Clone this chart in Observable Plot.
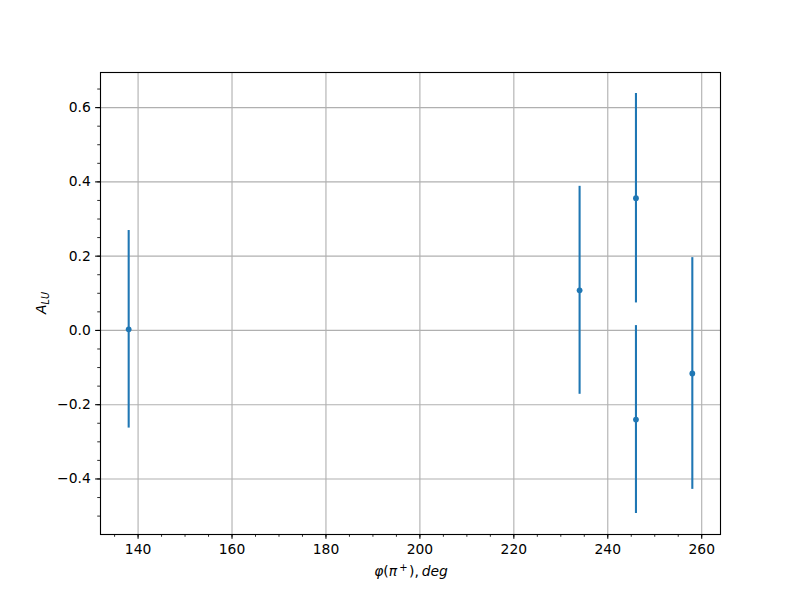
<!DOCTYPE html>
<html>
<head>
<meta charset="utf-8">
<script src="https://cdn.jsdelivr.net/npm/d3@7"></script>
<script src="https://cdn.jsdelivr.net/npm/@observablehq/plot@0.6"></script>
<style>
  html, body { margin: 0; padding: 0; background: #fff; }
  #chart { width: 800px; height: 600px; }
</style>
</head>
<body>
<div id="chart"></div>
<script>
// Data
const phi = [138, 234, 246, 246, 258];
const alu = [0.003, 0.108, 0.356, -0.240, -0.116];
const errs = [0.266, 0.280, 0.282, 0.253, 0.312];
const xMajorTicks = [140, 160, 180, 200, 220, 240, 260];
const yMajorTicks = [-0.4, -0.2, 0.0, 0.2, 0.4, 0.6];

const data = phi.map((x, i) => ({x, y: alu[i], lo: alu[i] - errs[i], hi: alu[i] + errs[i]}));

// matplotlib-style 5% autoscale margins
const xe = d3.extent(data, d => d.x);
const ye = [d3.min(data, d => d.lo), d3.max(data, d => d.hi)];
const xm = (xe[1] - xe[0]) * 0.05, ym = (ye[1] - ye[0]) * 0.05;
const xDomain = [xe[0] - xm, xe[1] + xm];
const yDomain = [ye[0] - ym, ye[1] + ym];

const xMinor = d3.range(Math.ceil(xDomain[0] / 5), Math.floor(xDomain[1] / 5) + 1).map(k => k * 5);
const yMinor = d3.range(Math.ceil(yDomain[0] / 0.05 - 1e-9), Math.floor(yDomain[1] / 0.05 + 1e-9) + 1).map(k => +(k * 0.05).toFixed(2));

const PT = 100 / 72;
const fontSize = 10 * PT;
const blue = "#1f77b4";

const plot = Plot.plot({
  width: 800,
  height: 600,
  marginLeft: 100,
  marginRight: 80,
  marginTop: 72,
  marginBottom: 66,
  style: {fontFamily: "DejaVu Sans", fontSize: fontSize + "px", color: "black", background: "white"},
  x: {domain: xDomain},
  y: {domain: yDomain},
  marks: [
    Plot.gridX(xMajorTicks, {stroke: "#b0b0b0", strokeOpacity: 1, strokeWidth: 0.8 * PT}),
    Plot.gridY(yMajorTicks, {stroke: "#b0b0b0", strokeOpacity: 1, strokeWidth: 0.8 * PT}),
    Plot.axisX(xMinor, {tickSize: 2 * PT, strokeWidth: 0.6 * PT, tickFormat: () => "", label: null}),
    Plot.axisY(yMinor, {tickSize: 2 * PT, strokeWidth: 0.6 * PT, tickFormat: () => "", label: null}),
    Plot.axisX(xMajorTicks, {tickSize: 3.5 * PT, tickPadding: 3.5 * PT, strokeWidth: 0.8 * PT, tickFormat: d => String(d), label: null, fontSize: fontSize}),
    Plot.axisY(yMajorTicks, {tickSize: 3.5 * PT, tickPadding: 3.5 * PT, strokeWidth: 0.8 * PT, tickFormat: d3.format(".1f"), label: null, fontSize: fontSize}),
    Plot.ruleX(data, {x: "x", y1: "lo", y2: "hi", stroke: blue, strokeWidth: 1.5 * PT}),
    Plot.dot(data, {x: "x", y: "y", r: 2.9, fill: blue, stroke: "none"}),
    Plot.frame({stroke: "black", strokeWidth: 0.8 * PT})
  ]
});

document.getElementById("chart").appendChild(plot);

const svg = d3.select(plot);
// x label: φ(π⁺), deg
const xl = svg.append("text")
  .attr("x", 411).attr("y", 576)
  .attr("text-anchor", "middle")
  .attr("font-family", "DejaVu Sans")
  .attr("font-size", fontSize)
  .attr("fill", "black");
xl.append("tspan").attr("font-style", "italic").text("φ");
xl.append("tspan").text("(");
xl.append("tspan").attr("font-style", "italic").text("π");
xl.append("tspan").attr("font-size", fontSize * 0.72).attr("dx", 2).attr("dy", -5).text("+");
xl.append("tspan").attr("dx", 1.5).attr("dy", 5).text("),");
xl.append("tspan").text("\u2009");
xl.append("tspan").attr("font-style", "italic").text("deg");

// y label: A_LU
const yl = svg.append("text")
  .attr("transform", "translate(46,303) rotate(-90)")
  .attr("text-anchor", "middle")
  .attr("font-family", "DejaVu Sans")
  .attr("font-size", fontSize)
  .attr("fill", "black");
yl.append("tspan").attr("font-style", "italic").text("A");
yl.append("tspan").attr("font-style", "italic").attr("font-size", fontSize * 0.7).attr("dy", 2.5).text("LU");
</script>
</body>
</html>
